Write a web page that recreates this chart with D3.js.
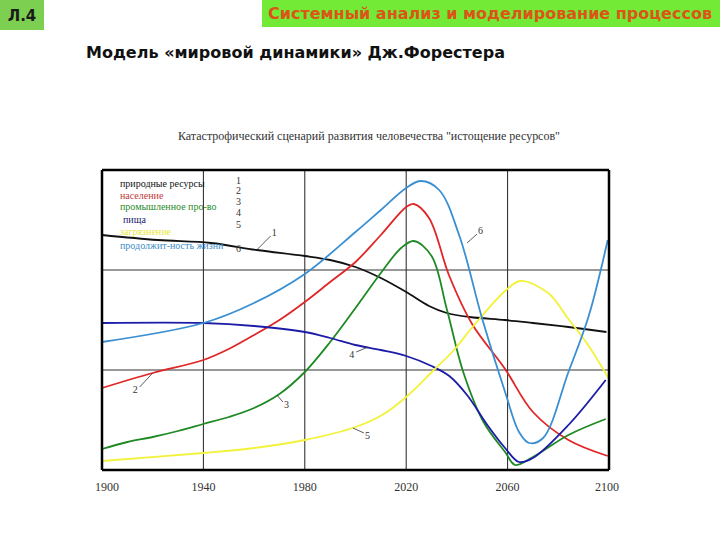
<!DOCTYPE html>
<html><head><meta charset="utf-8">
<script src="https://cdn.jsdelivr.net/npm/d3@7"></script>
<style>body{margin:0;background:#fff}svg{display:block}</style>
</head><body>
<script>
const xTicks = [1900, 1940, 1980, 2020, 2060, 2100];
const legendLabels = ["природные ресурсы", "население", "промышленное про-во", "пища", "загрязнение", "продолжит-ность жизни"];
const legendNumbers = ["1", "2", "3", "4", "5", "6"];

const resYears = [1900, 1922, 1943, 1961, 1980, 1990, 2000, 2010, 2020, 2029, 2036, 2045, 2059, 2070, 2084, 2099];
const resVals  = [2.35, 2.30, 2.27, 2.20, 2.14, 2.10, 2.03, 1.92, 1.78, 1.64, 1.57, 1.53, 1.50, 1.47, 1.43, 1.38];

const popYears = [1900, 1920, 1940, 1950, 1960, 1970, 1980, 1990, 2000, 2010, 2020, 2023, 2029, 2037, 2046, 2059, 2070, 2084, 2099.5];
const popVals  = [0.82, 0.97, 1.10, 1.21, 1.35, 1.50, 1.68, 1.88, 2.08, 2.35, 2.63, 2.66, 2.52, 1.94, 1.46, 1.01, 0.58, 0.30, 0.14];

const indYears = [1900, 1910, 1920, 1930, 1940, 1950, 1960, 1970, 1980, 1990, 2000, 2010, 2018, 2023, 2030, 2036, 2042.5, 2050.5, 2059, 2063, 2070, 2084, 2098.7];
const indVals  = [0.21, 0.28, 0.33, 0.39, 0.46, 0.53, 0.62, 0.76, 0.98, 1.28, 1.62, 1.97, 2.22, 2.29, 2.14, 1.61, 0.98, 0.48, 0.18, 0.05, 0.13, 0.35, 0.51];

const foodYears = [1900, 1940, 1960, 1980, 1990, 2000, 2010, 2020, 2030, 2037, 2044, 2052, 2059, 2064.5, 2070, 2084, 2098.7];
const foodVals  = [1.47, 1.47, 1.44, 1.38, 1.32, 1.25, 1.20, 1.14, 1.04, 0.94, 0.75, 0.45, 0.22, 0.08, 0.12, 0.45, 0.90];

const polYears = [1900, 1940, 1960, 1980, 2000, 2010.5, 2020, 2030.5, 2038.5, 2046.5, 2059, 2065, 2076, 2084, 2092, 2100];
const polVals  = [0.09, 0.17, 0.22, 0.30, 0.43, 0.55, 0.73, 0.99, 1.19, 1.44, 1.79, 1.89, 1.77, 1.51, 1.24, 0.91];

const lifeYears = [1900, 1940, 1960, 1980, 2000, 2010, 2020, 2025.8, 2033, 2041, 2050, 2059, 2064.5, 2068.5, 2074, 2084, 2092, 2099.5];
const lifeVals  = [1.28, 1.47, 1.67, 1.96, 2.38, 2.60, 2.82, 2.89, 2.80, 2.34, 1.51, 0.78, 0.38, 0.27, 0.32, 0.98, 1.54, 2.30];

const series = [
  {years: resYears, vals: resVals, color: "#111111", legend: "#111111"},
  {years: popYears, vals: popVals, color: "#e02626", legend: "#c0393b"},
  {years: indYears, vals: indVals, color: "#1f8a24", legend: "#2a8a2a"},
  {years: foodYears, vals: foodVals, color: "#1c1ca8", legend: "#1a1a6e"},
  {years: polYears, vals: polVals, color: "#f2f23a", legend: "#e8e840"},
  {years: lifeYears, vals: lifeVals, color: "#3a8fd2", legend: "#3a8cc8"}
];

const W = 720, H = 540;
const svg = d3.select("body").append("svg").attr("width", W).attr("height", H);

// header
svg.append("rect").attr("x", 0).attr("y", 0).attr("width", 44).attr("height", 30).attr("fill", "#7dcf52");
svg.append("text").attr("x", 22).attr("y", 21).attr("text-anchor", "middle")
  .attr("font-family", "DejaVu Sans").attr("font-weight", "bold").attr("font-size", 15).attr("fill", "#1a1a1a").text("Л.4");
svg.append("rect").attr("x", 262).attr("y", 0).attr("width", 458).attr("height", 27).attr("fill", "#72ea36");
svg.append("text").attr("x", 268).attr("y", 19)
  .attr("font-family", "DejaVu Sans").attr("font-weight", "bold").attr("font-size", 15).attr("fill", "#dd5418")
  .attr("textLength", 444).attr("lengthAdjust", "spacingAndGlyphs").text("Системный анализ и моделирование процессов");
svg.append("text").attr("x", 86).attr("y", 58)
  .attr("font-family", "DejaVu Sans").attr("font-weight", "bold").attr("font-size", 15).attr("fill", "#111")
  .attr("textLength", 419).attr("lengthAdjust", "spacingAndGlyphs").text("Модель «мировой динамики» Дж.Форестера");

// chart title
svg.append("text").attr("x", 178).attr("y", 140)
  .attr("font-family", "Liberation Serif").attr("font-size", 11.5).attr("fill", "#333")
  .attr("textLength", 382).attr("lengthAdjust", "spacingAndGlyphs")
  .text("Катастрофический сценарий развития человечества \"истощение ресурсов\"");

const x = d3.scaleLinear().domain([1900, 2100]).range([102, 609]);
const y = d3.scaleLinear().domain([0, 3]).range([470, 170]);

// grid
const g = svg.append("g");
g.selectAll("line.v").data(xTicks.slice(1, -1)).join("line")
  .attr("x1", d => x(d)).attr("x2", d => x(d)).attr("y1", y(3)).attr("y2", y(0))
  .attr("stroke", "#222").attr("stroke-width", 1);
g.selectAll("line.h").data([1, 2]).join("line")
  .attr("x1", x(1900)).attr("x2", x(2100)).attr("y1", d => y(d)).attr("y2", d => y(d))
  .attr("stroke", "#333").attr("stroke-width", 1);

// curves
const line = d3.line().x(d => x(d[0])).y(d => y(d[1])).curve(d3.curveCatmullRom.alpha(0.5));
series.forEach(s => {
  const pts = s.years.map((yr, i) => [yr, s.vals[i]]);
  svg.append("path").attr("d", line(pts)).attr("fill", "none")
    .attr("stroke", s.color).attr("stroke-width", 1.8);
});

// frame
svg.append("line").attr("x1", x(1900)).attr("x2", x(2100)).attr("y1", y(3)).attr("y2", y(3)).attr("stroke", "#000").attr("stroke-width", 2.5);
svg.append("line").attr("x1", x(2100)).attr("x2", x(2100)).attr("y1", y(3)).attr("y2", y(0)).attr("stroke", "#000").attr("stroke-width", 2.5);
svg.append("line").attr("x1", x(1900)).attr("x2", x(1900)).attr("y1", y(3)).attr("y2", y(0)).attr("stroke", "#000").attr("stroke-width", 2.5);
svg.append("line").attr("x1", x(1900)).attr("x2", x(2100)).attr("y1", y(0)).attr("y2", y(0)).attr("stroke", "#000").attr("stroke-width", 2.5);

// x axis labels
svg.selectAll("text.xt").data(xTicks).join("text")
  .attr("x", d => x(d) + (d === 1900 ? 5 : (d === 2100 ? -2 : 0))).attr("y", 491)
  .attr("text-anchor", "middle").attr("font-family", "Liberation Serif").attr("font-size", 12).attr("fill", "#333")
  .text(d => d);

// legend
const ly = [187, 199, 210, 223, 235, 249];
const ny = [184, 194, 205, 216, 228, 252];
legendLabels.forEach((t, i) => {
  svg.append("text").attr("x", i === 3 ? 123 : 120).attr("y", ly[i])
    .attr("font-family", "Liberation Serif").attr("font-size", 10).attr("fill", series[i].legend).text(t);
  svg.append("text").attr("x", 236).attr("y", ny[i])
    .attr("font-family", "Liberation Serif").attr("font-size", 10).attr("fill", "#333").text(legendNumbers[i]);
});

// curve annotations
const ann = [
  {yr: 1961, v: 2.20, dx: 14, dy: -14, t: "1"},
  {yr: 1920, v: 0.97, dx: -13, dy: 14, t: "2"},
  {yr: 1969, v: 0.75, dx: 6, dy: 7, t: "3"},
  {yr: 2005, v: 1.23, dx: -12, dy: 5, t: "4"},
  {yr: 1999, v: 0.42, dx: 11, dy: 5, t: "5"},
  {yr: 2044, v: 2.27, dx: 10, dy: -9, t: "6"}
];
ann.forEach(a => {
  const px = x(a.yr), py = y(a.v);
  svg.append("line").attr("x1", px).attr("y1", py).attr("x2", px + a.dx).attr("y2", py + a.dy)
    .attr("stroke", "#333").attr("stroke-width", 0.8);
  svg.append("text").attr("x", px + a.dx + (a.dx > 0 ? 1 : -7)).attr("y", py + a.dy + (a.dy > 0 ? 6 : 0))
    .attr("font-family", "Liberation Serif").attr("font-size", 10).attr("fill", "#333").text(a.t);
});
</script>
</body></html>
